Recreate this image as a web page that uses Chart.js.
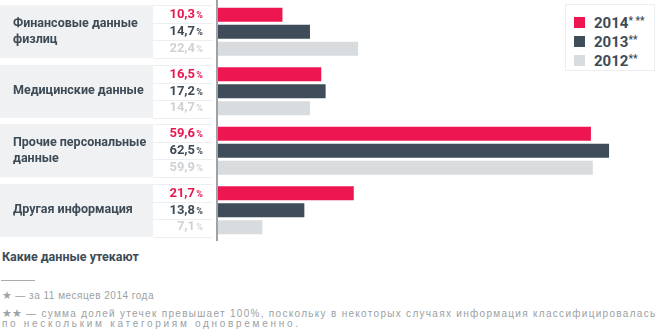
<!DOCTYPE html>
<html><head><meta charset="utf-8">
<script src="https://cdn.jsdelivr.net/npm/chart.js@4/dist/chart.umd.min.js"></script>
<style>
html,body{margin:0;padding:0;background:#fff;}
#wrap{position:relative;width:658px;height:331px;overflow:hidden;font-family:Roboto,"Noto Sans",sans-serif;}
#c{position:absolute;left:0;top:0;}
#legend{position:absolute;left:565px;top:4px;width:90px;height:67px;border:1px solid #eceeef;background:#fff;box-sizing:border-box;padding-top:8px;}
.li{height:19px;display:flex;align-items:center;color:#3d4b57;font-weight:bold;font-size:15px;}
.li .sw{width:11px;height:11px;margin-left:8px;margin-right:9px;}
.li sup{font-size:10px;position:relative;top:-2px;}
#title{position:absolute;left:2px;top:249px;font-weight:bold;font-size:12.5px;color:#3d4b57;}
#rule{position:absolute;left:1px;top:280px;width:34px;height:1px;background:#a8adb1;}
.fn{position:absolute;left:2px;font-size:10px;color:#9a9fa4;white-space:nowrap;font-family:"Liberation Sans",Arial,sans-serif;}
.fn .st{color:#9ea3a7;letter-spacing:0;font-size:11px;}
</style></head>
<body><div id="wrap">
<canvas id="c" width="658" height="245"></canvas>
<div id="legend"></div>
<div id="title">Какие данные утекают</div>
<div id="rule"></div>
<div class="fn" style="top:289px;letter-spacing:0.5px"><span class="st">★</span> — за 11 месяцев 2014 года</div>
<div class="fn" style="top:307px;letter-spacing:1.3px"><span class="st">★★</span> — сумма долей утечек превышает 100%, поскольку в некоторых случаях информация классифицировалась</div>
<div class="fn" style="top:318px;letter-spacing:2.7px">по нескольким категориям одновременно.</div>
</div>
<script>
const categories = [["Финансовые данные","физлиц"],"Медицинские данные",["Прочие персональные","данные"],"Другая информация"];
const years = ["2014","2013","2012"];
const yearMarks = ["* **","**","**"];
const values2014 = [10.3, 16.5, 59.6, 21.7];
const values2013 = [14.7, 17.2, 62.5, 13.8];
const values2012 = [22.4, 14.7, 59.9, 7.1];
const barColors = ["#ed1650","#3e4d59","#d9dcde"];
const textColors = ["#e8174f","#3d4b57","#cfd2d5"];

const series = [values2014, values2013, values2012];

const panelPlugin = {
  id:'panel',
  beforeDraw(chart){
    const ctx = chart.ctx, y = chart.scales.y;
    ctx.save();
    for(let i=0;i<categories.length;i++){
      const cy = y.getPixelForValue(i);
      ctx.fillStyle = '#f0f1f2';
      ctx.fillRect(0, cy-26.5, 153, 53);
      ctx.strokeStyle = '#eceeef'; ctx.lineWidth = 1;
      const step = 17;
      [cy-26.5, cy-step/2, cy+step/2, cy+26.5].forEach(ly=>{
        ctx.beginPath(); ctx.moveTo(153, Math.round(ly)+0.5); ctx.lineTo(213, Math.round(ly)+0.5); ctx.stroke();
      });
    }
    ctx.restore();
  },
  afterDatasetsDraw(chart){
    const ctx = chart.ctx;
    ctx.save();
    ctx.textBaseline = 'middle';
    chart.data.datasets.forEach((ds, di)=>{
      const meta = chart.getDatasetMeta(di);
      meta.data.forEach((bar, i)=>{
        const txt = ds.data[i].toFixed(1).replace('.', ',');
        ctx.fillStyle = textColors[di];
        ctx.textAlign = 'right';
        ctx.font = 'bold 9px Roboto';
        ctx.fillText('%', 203, bar.y+1);
        ctx.font = 'bold 13px Roboto';
        ctx.fillText(txt, 195, bar.y);
      });
    });
    ctx.strokeStyle = '#7d848a'; ctx.lineWidth = 1.5;
    ctx.beginPath(); ctx.moveTo(217, 0); ctx.lineTo(217, 241); ctx.stroke();
    ctx.restore();
  }
};

const chart = new Chart(document.getElementById('c'), {
  type:'bar',
  data:{
    labels: categories,
    datasets: years.map((yr, k)=>({
      label: yr,
      data: series[k],
      backgroundColor: barColors[k],
      borderWidth: 0,
      categoryPercentage: 0.857,
      barPercentage: 0.82
    }))
  },
  options:{
    indexAxis:'y',
    responsive:false,
    animation:false,
    layout:{padding:{left:13,right:2,top:2,bottom:5}},
    plugins:{legend:{display:false},tooltip:{enabled:false}},
    scales:{
      x:{display:false,min:0,max:70},
      y:{
        grid:{display:false},
        border:{display:false},
        afterFit(s){ s.width = 205; s.paddingTop = 0; s.paddingBottom = 0; },
        ticks:{crossAlign:'far',color:'#3d4b57',font:{family:'Roboto',weight:'bold',size:12.5,lineHeight:1.25},padding:0}
      }
    }
  },
  plugins:[panelPlugin]
});

const lg = document.getElementById('legend');
years.forEach((yr,k)=>{
  const d = document.createElement('div'); d.className='li';
  d.innerHTML = '<span class="sw" style="background:'+barColors[k]+'"></span>'+yr+'<sup>'+yearMarks[k]+'</sup>';
  lg.appendChild(d);
});
</script>
</body></html>
